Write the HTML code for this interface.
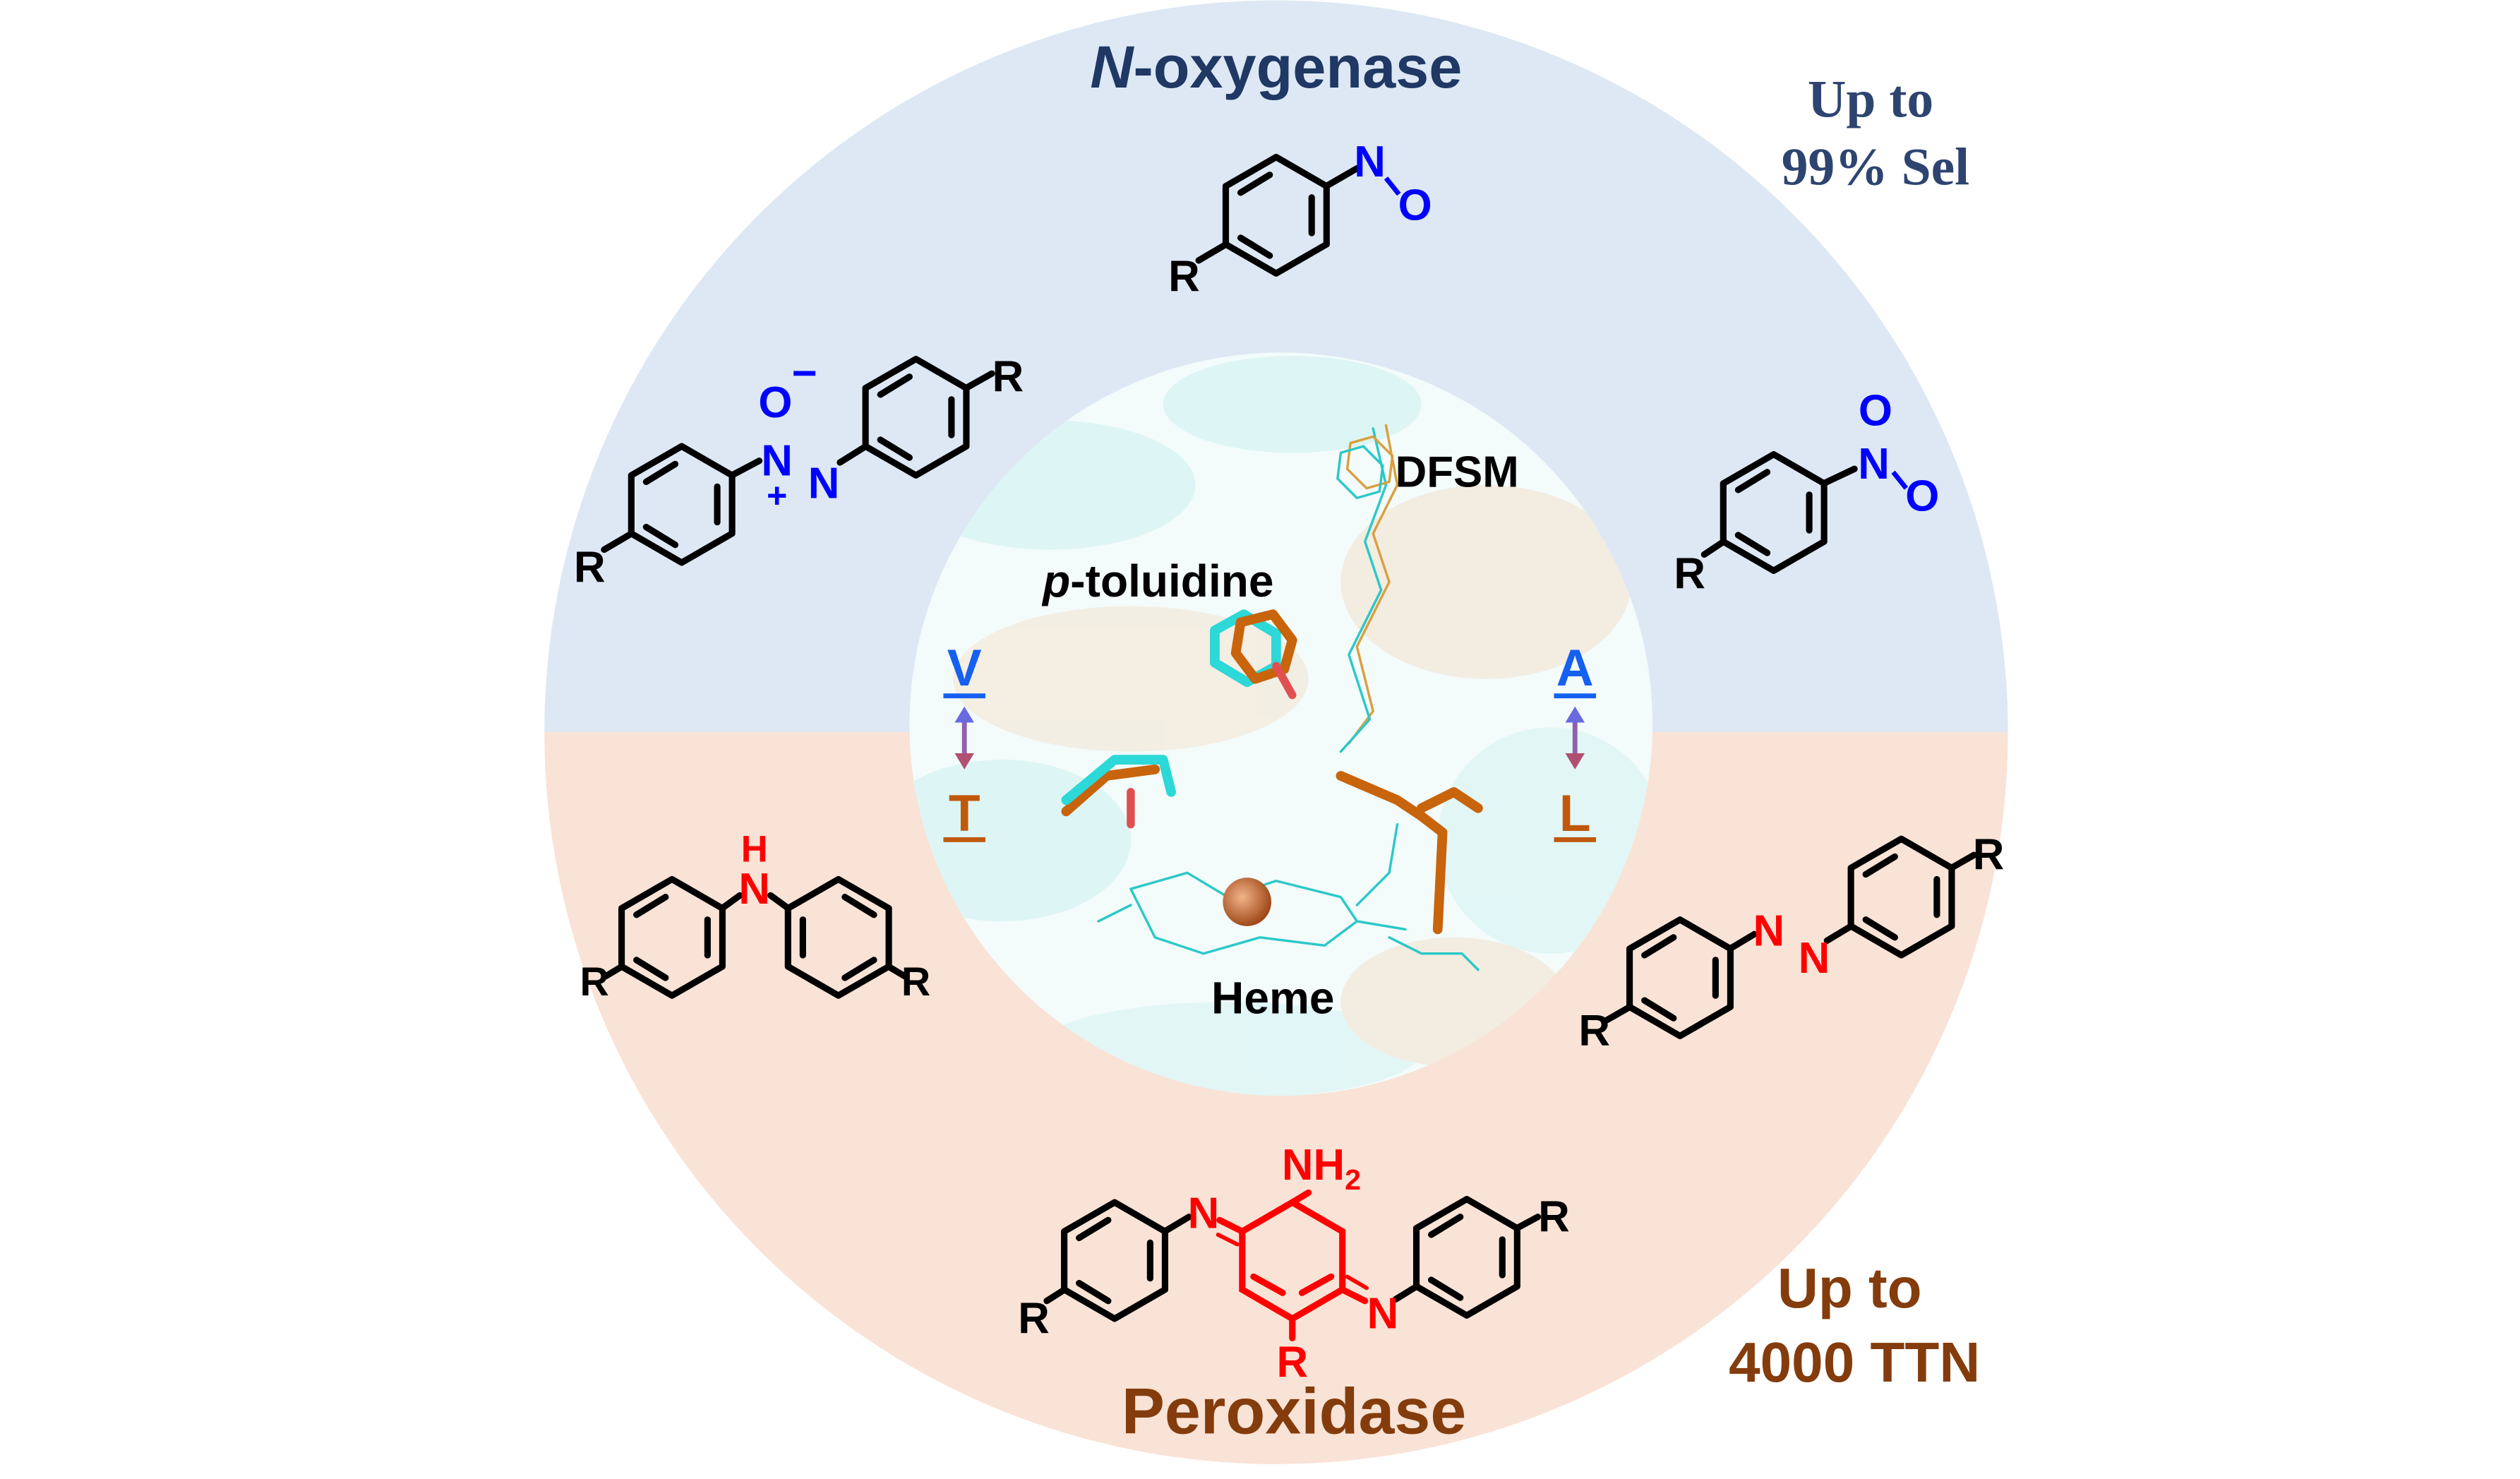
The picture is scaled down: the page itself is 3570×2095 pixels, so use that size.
<!DOCTYPE html>
<html><head><meta charset="utf-8"><style>
html,body{margin:0;padding:0;background:#fff;}
svg{display:block;}
text{font-family:"Liberation Sans",sans-serif;font-weight:bold;}
</style></head><body>
<svg width="3570" height="2095" viewBox="0 0 1560 915" xmlns="http://www.w3.org/2000/svg">
<defs>
<clipPath id="top"><rect x="0" y="0" width="1560" height="453"/></clipPath>
<clipPath id="bot"><rect x="0" y="453" width="1560" height="500"/></clipPath>
<clipPath id="inner"><circle cx="793" cy="448" r="230"/></clipPath>
<radialGradient id="fe" cx="0.4" cy="0.4" r="0.6"><stop offset="0" stop-color="#f2b48a"/><stop offset="1" stop-color="#a04a1a"/></radialGradient>
<g id="ring" fill="none" stroke-width="4" stroke-linejoin="round">
<polygon points="0,-36 31.2,-18 31.2,18 0,36 -31.2,18 -31.2,-18"/>
<line x1="22" y1="-11" x2="22" y2="11"/>
<line x1="-4" y1="-25" x2="-22" y2="-14"/>
<line x1="-4" y1="25" x2="-22" y2="14"/>
</g>
</defs>
<circle cx="790" cy="453" r="453" fill="#dde8f4" clip-path="url(#top)"/>
<circle cx="790" cy="453" r="453" fill="#f9e3d6" clip-path="url(#bot)"/>
<circle cx="793" cy="448" r="230" fill="#f3fbfb"/>
<g clip-path="url(#inner)" opacity="0.4">
<ellipse cx="650" cy="300" rx="90" ry="40" fill="#bdeeee"/>
<ellipse cx="700" cy="420" rx="110" ry="45" fill="#f4dcc0"/>
<ellipse cx="920" cy="360" rx="90" ry="60" fill="#f2d8bc"/>
<ellipse cx="620" cy="520" rx="80" ry="50" fill="#bdeeee"/>
<ellipse cx="960" cy="520" rx="70" ry="70" fill="#c8f0f0"/>
<ellipse cx="800" cy="250" rx="80" ry="30" fill="#bdeeee"/>
<ellipse cx="760" cy="650" rx="120" ry="30" fill="#c8f0f0"/>
<ellipse cx="900" cy="620" rx="70" ry="40" fill="#f2d8bc"/>
</g>
<g fill="none" stroke-linecap="round" stroke-linejoin="round">
<polyline points="858,263 865,300 850,330 860,360 840,400 850,440 835,460" stroke="#d9a040" stroke-width="1.5"/>
<polyline points="850,265 858,300 845,335 855,365 835,405 848,445 830,465" stroke="#2cc8c8" stroke-width="1.5"/>
<polygon points="850,270 862,282 860,298 846,302 834,290 836,274" stroke="#d9a040" stroke-width="1.5"/>
<polygon points="844,276 856,288 854,304 840,308 828,296 830,280" stroke="#2cc8c8" stroke-width="1.5"/>
<polygon points="752,390 770,380 790,392 790,412 772,422 752,410" stroke="#2cd8d8" stroke-width="6"/>
<polygon points="768,385 788,380 800,396 795,414 777,420 765,404" stroke="#c8640c" stroke-width="6"/>
<line x1="790" y1="412" x2="800" y2="430" stroke="#e05050" stroke-width="5"/>
<polyline points="890,575 893,515 880,505 865,495 830,480" stroke="#c8640c" stroke-width="6"/>
<polyline points="880,500 900,490 915,500" stroke="#c8640c" stroke-width="6"/>
<polyline points="660,502 685,480 715,476" stroke="#c8640c" stroke-width="6"/>
<polyline points="660,495 690,470 720,470 725,490" stroke="#2cd8d8" stroke-width="6"/>
<polyline points="700,490 700,510" stroke="#e05050" stroke-width="5"/>
<g stroke="#2cc8c8" stroke-width="1.5">
<polygon points="700,550 735,540 760,555 790,545 830,555 840,570 820,585 780,580 745,590 715,580"/>
<line x1="700" y1="560" x2="680" y2="570"/><line x1="840" y1="570" x2="870" y2="575"/>
<polyline points="840,560 860,540 865,510"/><polyline points="860,580 880,590 905,590 915,600"/>
</g>
</g>
<circle cx="772" cy="558" r="15" fill="url(#fe)"/>
<text x="902" y="301" font-size="27" fill="#000" text-anchor="middle">DFSM</text>
<text x="717" y="369" font-size="28" fill="#000" text-anchor="middle"><tspan font-style="italic">p</tspan>-toluidine</text>
<text x="788" y="627" font-size="28" fill="#000" text-anchor="middle">Heme</text>
<text x="597" y="424" font-size="32" fill="#1560f0" text-anchor="middle">V</text>
<rect x="584" y="429" width="26" height="3" fill="#1560f0"/>
<text x="597" y="514" font-size="32" fill="#c0580c" text-anchor="middle">T</text>
<rect x="584" y="518" width="26" height="3" fill="#c0580c"/>
<text x="975" y="424" font-size="32" fill="#1560f0" text-anchor="middle">A</text>
<rect x="962" y="429" width="26" height="3" fill="#1560f0"/>
<text x="975" y="514" font-size="32" fill="#c0580c" text-anchor="middle">L</text>
<rect x="962" y="518" width="26" height="3" fill="#c0580c"/>
<g stroke="#9060b0" stroke-width="3" fill="#9060b0">
<line x1="597" y1="445" x2="597" y2="468"/><polygon points="591,447 603,447 597,437" fill="#6a6ae0" stroke="none"/><polygon points="591,466 603,466 597,476" fill="#b05070" stroke="none"/>
<line x1="975" y1="445" x2="975" y2="468"/><polygon points="969,447 981,447 975,437" fill="#6a6ae0" stroke="none"/><polygon points="969,466 981,466 975,476" fill="#b05070" stroke="none"/>
</g>
<text x="790" y="54" font-size="37" fill="#1f3864" text-anchor="middle"><tspan font-style="italic">N</tspan>-oxygenase</text>
<text x="1158" y="72" font-size="33" fill="#2e4470" text-anchor="middle" style="font-family:'Liberation Serif',serif">Up to</text>
<text x="1161" y="114" font-size="33" fill="#2e4470" text-anchor="middle" style="font-family:'Liberation Serif',serif">99% Sel</text>
<text x="1145" y="809" font-size="35" fill="#843c0c" text-anchor="middle">Up to</text>
<text x="1148" y="855" font-size="35" fill="#843c0c" text-anchor="middle">4000 TTN</text>
<text x="801" y="887" font-size="40" fill="#843c0c" text-anchor="middle">Peroxidase</text>
<g stroke="#000" stroke-width="4" fill="none" stroke-linecap="round">
<use href="#ring" x="790" y="133" stroke="#000"/>
<line x1="821" y1="115" x2="840" y2="104"/><line x1="759" y1="151" x2="742" y2="161"/>
<use href="#ring" x="422" y="312" stroke="#000"/>
<line x1="453" y1="294" x2="470" y2="285"/><line x1="391" y1="330" x2="374" y2="340"/>
<use href="#ring" x="567" y="258" stroke="#000"/>
<line x1="536" y1="276" x2="520" y2="286"/><line x1="598" y1="240" x2="614" y2="231"/>
<use href="#ring" x="1098" y="317" stroke="#000"/>
<line x1="1129" y1="299" x2="1148" y2="290"/><line x1="1067" y1="335" x2="1055" y2="343"/>
<use href="#ring" x="416" y="580" stroke="#000"/>
<line x1="447" y1="562" x2="458" y2="554"/><line x1="385" y1="598" x2="375" y2="604"/>
<use href="#ring" x="519" y="580" transform="translate(1038,0) scale(-1,1)" stroke="#000"/>
<line x1="488" y1="562" x2="477" y2="554"/><line x1="550" y1="598" x2="560" y2="604"/>
<use href="#ring" x="1040" y="605" stroke="#000"/>
<line x1="1071" y1="587" x2="1086" y2="578"/><line x1="1009" y1="623" x2="995" y2="631"/>
<use href="#ring" x="1177" y="555" stroke="#000"/>
<line x1="1146" y1="573" x2="1131" y2="582"/><line x1="1208" y1="537" x2="1222" y2="529"/>
<use href="#ring" x="690" y="780" stroke="#000"/>
<line x1="721" y1="762" x2="736" y2="753"/><line x1="659" y1="798" x2="648" y2="805"/>
<use href="#ring" x="908" y="778" stroke="#000"/>
<line x1="877" y1="796" x2="864" y2="804"/><line x1="939" y1="760" x2="952" y2="753"/>
<g stroke="#f00">
<polygon points="800,744 831,762 831,798 800,816 769,798 769,762"/>
<line x1="776" y1="790" x2="794" y2="800"/><line x1="824" y1="790" x2="806" y2="800"/>
<line x1="800" y1="744" x2="810" y2="738"/>
<line x1="769" y1="762" x2="755" y2="755"/><line x1="766" y1="770" x2="754" y2="764" stroke-width="2.5"/>
<line x1="831" y1="798" x2="845" y2="805"/><line x1="834" y1="790" x2="846" y2="797" stroke-width="2.5"/>
<line x1="800" y1="816" x2="800" y2="828"/>
</g>
</g>
<g font-size="27">
<text x="848" y="109" fill="#0000ff" text-anchor="middle">N</text>
<line x1="858" y1="110" x2="866" y2="120" stroke="#0000ff" stroke-width="3"/>
<text x="876" y="136" fill="#0000ff" text-anchor="middle">O</text>
<text x="733" y="180" fill="#000" text-anchor="middle">R</text>
<text x="480" y="258" fill="#0000ff" text-anchor="middle">O</text>
<text x="498" y="240" fill="#0000ff" text-anchor="middle">−</text>
<text x="481" y="294" fill="#0000ff" text-anchor="middle">N</text>
<text x="481" y="314" fill="#0000ff" text-anchor="middle" font-size="22">+</text>
<text x="510" y="308" fill="#0000ff" text-anchor="middle">N</text>
<text x="365" y="360" fill="#000" text-anchor="middle">R</text>
<text x="624" y="242" fill="#000" text-anchor="middle">R</text>
<text x="1161" y="263" fill="#0000ff" text-anchor="middle">O</text>
<text x="1160" y="296" fill="#0000ff" text-anchor="middle">N</text>
<line x1="1172" y1="292" x2="1180" y2="302" stroke="#0000ff" stroke-width="3"/>
<text x="1190" y="316" fill="#0000ff" text-anchor="middle">O</text>
<text x="1046" y="364" fill="#000" text-anchor="middle">R</text>
<text x="467" y="533" fill="#f00" text-anchor="middle" font-size="23">H</text>
<text x="467" y="559" fill="#f00" text-anchor="middle">N</text>
<text x="368" y="616" fill="#000" text-anchor="middle" font-size="25">R</text>
<text x="567" y="616" fill="#000" text-anchor="middle" font-size="25">R</text>
<text x="1095" y="585" fill="#f00" text-anchor="middle">N</text>
<text x="1123" y="602" fill="#f00" text-anchor="middle">N</text>
<text x="987" y="647" fill="#000" text-anchor="middle">R</text>
<text x="1231" y="538" fill="#000" text-anchor="middle">R</text>
<text x="818" y="730" fill="#f00" text-anchor="middle">NH<tspan font-size="18" dy="6">2</tspan></text>
<text x="745" y="760" fill="#f00" text-anchor="middle">N</text>
<text x="856" y="822" fill="#f00" text-anchor="middle">N</text>
<text x="800" y="852" fill="#f00" text-anchor="middle">R</text>
<text x="640" y="825" fill="#000" text-anchor="middle">R</text>
<text x="962" y="762" fill="#000" text-anchor="middle">R</text>
</g>
</svg>
</body></html>
